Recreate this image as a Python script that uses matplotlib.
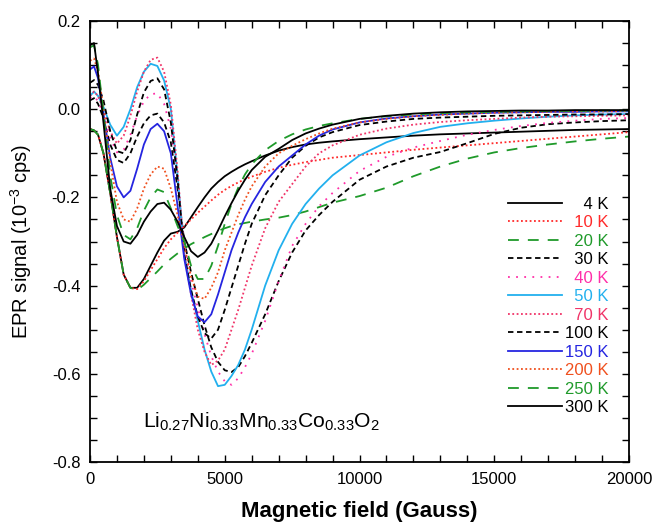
import numpy as np
import matplotlib
matplotlib.use('Agg')
import matplotlib.pyplot as plt
from matplotlib.ticker import MultipleLocator

plt.rcParams['font.family'] = ['Liberation Sans', 'DejaVu Sans']
plt.rcParams['axes.unicode_minus'] = False
plt.rcParams['mathtext.fontset'] = 'custom'
plt.rcParams['mathtext.rm'] = 'Liberation Sans'

# magnetic field grid (Gauss)
field = [0, 150, 300, 500, 750, 1000, 1250, 1500, 1750, 2000, 2250, 2500, 2750,
         3000, 3250, 3500, 3750, 4000, 4250, 4500, 4750, 5000, 5250, 5500, 5750,
         6000, 6500, 7000, 7500, 8000, 8500, 9000, 10000, 11000, 12000, 13000,
         14000, 15000, 16000, 17000, 18000, 19000, 20000]

# EPR signal (10^-3 cps) for each temperature
sig_4K = [-0.045, -0.048, -0.058, -0.10, -0.19, -0.29, -0.375, -0.405, -0.405, -0.385, -0.355, -0.325, -0.298,
          -0.282, -0.278, -0.268, -0.245, -0.222, -0.2, -0.18, -0.165, -0.152, -0.142, -0.133, -0.125,
          -0.118, -0.105, -0.094, -0.086, -0.08, -0.076, -0.073, -0.068, -0.064, -0.06, -0.057,
          -0.055, -0.053, -0.051, -0.049, -0.047, -0.046, -0.045]
sig_10K = [-0.045, -0.048, -0.058, -0.10, -0.19, -0.29, -0.375, -0.405, -0.408, -0.39, -0.365, -0.34, -0.315,
           -0.295, -0.28, -0.265, -0.25, -0.235, -0.221, -0.207, -0.194, -0.183, -0.174, -0.166, -0.159,
           -0.153, -0.142, -0.133, -0.126, -0.12, -0.115, -0.11, -0.104, -0.098, -0.092, -0.087,
           -0.082, -0.077, -0.072, -0.067, -0.062, -0.057, -0.052]
sig_20K = [-0.045, -0.048, -0.058, -0.10, -0.19, -0.29, -0.375, -0.405, -0.41, -0.398, -0.383, -0.368, -0.352,
           -0.339, -0.327, -0.316, -0.306, -0.298, -0.29, -0.283, -0.276, -0.27, -0.265, -0.261, -0.258,
           -0.255, -0.25, -0.246, -0.24, -0.232, -0.222, -0.212, -0.197, -0.178, -0.152, -0.13,
           -0.112, -0.098, -0.088, -0.08, -0.073, -0.067, -0.062]
sig_30K = [0.02, 0.025, 0.012, -0.02, -0.08, -0.115, -0.122, -0.1, -0.062, -0.032, -0.014, -0.01, -0.03,
           -0.075, -0.18, -0.3, -0.37, -0.43, -0.49, -0.54, -0.573, -0.592, -0.596, -0.585, -0.56,
           -0.53, -0.465, -0.39, -0.325, -0.275, -0.24, -0.21, -0.16, -0.13, -0.11, -0.097,
           -0.077, -0.056, -0.042, -0.034, -0.03, -0.027, -0.025]
sig_40K = [0.025, 0.03, 0.018, -0.012, -0.065, -0.098, -0.092, -0.058, -0.015, 0.018, 0.034, 0.036, 0.012,
           -0.045, -0.165, -0.31, -0.39, -0.45, -0.51, -0.56, -0.595, -0.617, -0.625, -0.61, -0.585,
           -0.555, -0.48, -0.39, -0.31, -0.26, -0.22, -0.19, -0.14, -0.108, -0.087, -0.072,
           -0.058, -0.047, -0.038, -0.031, -0.026, -0.022, -0.02]
sig_50K = [0.03, 0.04, 0.03, 0.005, -0.035, -0.06, -0.04, 0.0, 0.05, 0.085, 0.103, 0.098, 0.065,
           0.0, -0.15, -0.33, -0.41, -0.48, -0.545, -0.595, -0.628, -0.625, -0.605, -0.58, -0.545,
           -0.5, -0.4, -0.32, -0.26, -0.215, -0.18, -0.15, -0.105, -0.075, -0.054, -0.04,
           -0.032, -0.026, -0.021, -0.017, -0.014, -0.012, -0.011]
sig_70K = [0.03, 0.04, 0.03, 0.0, -0.05, -0.078, -0.06, -0.015, 0.04, 0.085, 0.112, 0.117, 0.085,
           0.01, -0.14, -0.33, -0.42, -0.5, -0.55, -0.58, -0.57, -0.545, -0.5, -0.455, -0.405,
           -0.355, -0.27, -0.21, -0.17, -0.13, -0.1, -0.082, -0.058, -0.044, -0.035, -0.029,
           -0.025, -0.022, -0.019, -0.017, -0.016, -0.015, -0.014]
sig_100K = [0.06, 0.066, 0.055, 0.02, -0.05, -0.095, -0.1, -0.07, -0.012, 0.038, 0.064, 0.07, 0.045,
            -0.03, -0.16, -0.33, -0.41, -0.47, -0.508, -0.52, -0.5, -0.455, -0.405, -0.355, -0.305,
            -0.26, -0.195, -0.15, -0.11, -0.083, -0.064, -0.052, -0.036, -0.028, -0.022, -0.019,
            -0.017, -0.015, -0.014, -0.013, -0.012, -0.012, -0.011]
sig_150K = [0.09, 0.097, 0.07, -0.01, -0.11, -0.175, -0.2, -0.185, -0.135, -0.08, -0.045, -0.033, -0.05,
            -0.1, -0.22, -0.34, -0.42, -0.47, -0.483, -0.465, -0.42, -0.37, -0.32, -0.28, -0.245,
            -0.215, -0.165, -0.13, -0.105, -0.08, -0.06, -0.046, -0.03, -0.021, -0.016, -0.012,
            -0.01, -0.008, -0.007, -0.006, -0.006, -0.005, -0.005]
sig_200K = [0.11, 0.115, 0.085, 0.0, -0.12, -0.21, -0.25, -0.255, -0.225, -0.18, -0.148, -0.13, -0.135,
            -0.18, -0.24, -0.31, -0.38, -0.425, -0.43, -0.405, -0.37, -0.32, -0.28, -0.24, -0.205,
            -0.175, -0.13, -0.1, -0.083, -0.068, -0.055, -0.044, -0.03, -0.022, -0.016, -0.013,
            -0.01, -0.008, -0.007, -0.006, -0.005, -0.005, -0.004]
sig_250K = [0.14, 0.145, 0.1, -0.01, -0.15, -0.24, -0.285, -0.295, -0.27, -0.23, -0.2, -0.182, -0.188,
            -0.225, -0.265, -0.3, -0.355, -0.385, -0.385, -0.355, -0.31, -0.26, -0.215, -0.178, -0.148,
            -0.125, -0.093, -0.072, -0.057, -0.046, -0.038, -0.032, -0.022, -0.016, -0.012, -0.009,
            -0.007, -0.006, -0.005, -0.004, -0.004, -0.003, -0.003]
sig_300K = [0.145, 0.15, 0.08, -0.03, -0.18, -0.265, -0.3, -0.305, -0.285, -0.255, -0.232, -0.215, -0.212,
            -0.228, -0.255, -0.29, -0.322, -0.335, -0.325, -0.305, -0.275, -0.243, -0.213, -0.185, -0.16,
            -0.138, -0.108, -0.09, -0.07, -0.055, -0.044, -0.035, -0.022, -0.015, -0.01, -0.007,
            -0.005, -0.004, -0.003, -0.003, -0.002, -0.002, -0.002]

labels = ['4 K', '10 K', '20 K', '30 K', '40 K', '50 K', '70 K', '100 K', '150 K', '200 K', '250 K', '300 K']
signals = [sig_4K, sig_10K, sig_20K, sig_30K, sig_40K, sig_50K, sig_70K, sig_100K,
           sig_150K, sig_200K, sig_250K, sig_300K]
colors = ['#000000', '#ff2a2a', '#1f9a2a', '#000000', '#ff2fa8', '#22b0ee', '#f03468', '#000000',
          '#2525e0', '#f0501e', '#1f9a2a', '#000000']
styles = ['-', (0, (1, 1.4)), (0, (6, 5)), (0, (3, 2)), (0, (1, 3.5)), '-', (0, (1, 1.4)), (0, (3, 2)),
          '-', (0, (1, 1.4)), (0, (6, 5)), '-']

fig = plt.figure(figsize=(6.54, 5.25), dpi=100)
ax = fig.add_axes([0.1376, 0.12, 0.8242, 0.84])

for sig, lab, col, ls in zip(signals, labels, colors, styles):
    # pad with figure spaces so the K's line up like in the original
    pad = '\u2007' * (5 - len(lab))
    ax.plot(field, sig, color=col, linestyle=ls, linewidth=1.3, label=pad + lab)

ax.set_xlim(0, 20000)
ax.set_ylim(-0.8, 0.2)
ax.xaxis.set_major_locator(MultipleLocator(5000))
ax.xaxis.set_minor_locator(MultipleLocator(1000))
ax.yaxis.set_major_locator(MultipleLocator(0.2))
ax.yaxis.set_minor_locator(MultipleLocator(0.05))
ax.yaxis.set_major_formatter(matplotlib.ticker.FormatStrFormatter('%.1f'))
ax.tick_params(which='both', direction='in', top=True, right=True, width=1.0)
ax.tick_params(which='major', length=5, labelsize=12, pad=7)
ax.tick_params(which='minor', length=5)
for s in ax.spines.values():
    s.set_linewidth(1.3)

ax.set_xlabel('Magnetic field (Gauss)', fontsize=16, fontweight='bold', labelpad=10)
ax.set_ylabel(r'EPR signal (10$^{\mathregular{-3}}$ cps)', fontsize=14.5, labelpad=13)

ax.text(0.098, 0.09, r'$\mathregular{Li_{0.27}Ni_{0.33}Mn_{0.33}Co_{0.33}O_2}$',
        transform=ax.transAxes, fontsize=15.2, va='center', ha='left')

leg = ax.legend(loc='upper right', bbox_to_anchor=(0.962, 0.602), frameon=False,
                fontsize=12, handlelength=3.2, handletextpad=0.2, labelspacing=0.21,
                borderaxespad=0, borderpad=0)
for t, l in zip(leg.get_texts(), leg.get_lines()):
    t.set_color(l.get_color())

fig.savefig('out.png', dpi=100)
